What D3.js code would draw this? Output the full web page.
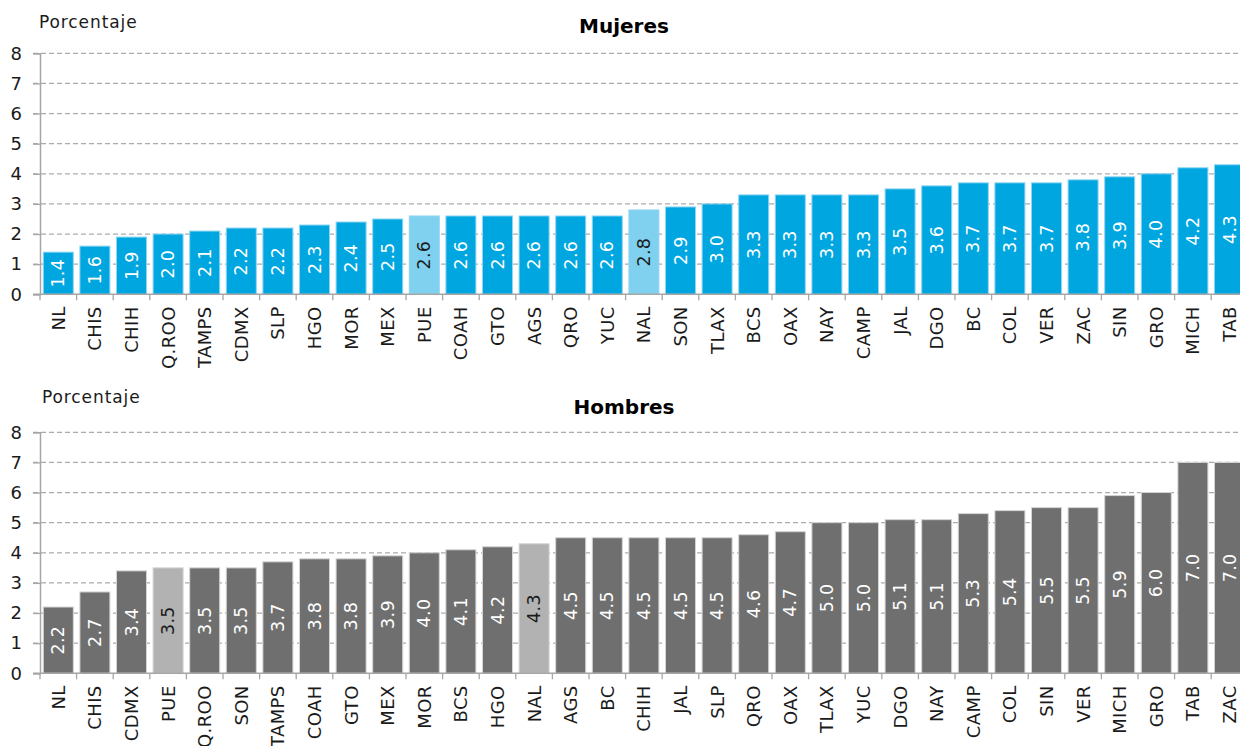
<!DOCTYPE html>
<html>
<head>
<meta charset="utf-8">
<script src="https://cdn.jsdelivr.net/npm/d3@7"></script>
<style>
  html, body { margin: 0; padding: 0; background: #fff; }
  svg { display: block; font-family: "DejaVu Sans", sans-serif; }
</style>
</head>
<body>
<svg id="chart" width="1240" height="746"></svg>
<script>
// Mujeres panel
const catsMujeres = ["NL","CHIS","CHIH","Q.ROO","TAMPS","CDMX","SLP","HGO","MOR","MEX","PUE","COAH","GTO","AGS","QRO","YUC","NAL","SON","TLAX","BCS","OAX","NAY","CAMP","JAL","DGO","BC","COL","VER","ZAC","SIN","GRO","MICH","TAB"];
const valsMujeres = [1.4,1.6,1.9,2.0,2.1,2.2,2.2,2.3,2.4,2.5,2.6,2.6,2.6,2.6,2.6,2.6,2.8,2.9,3.0,3.3,3.3,3.3,3.3,3.5,3.6,3.7,3.7,3.7,3.8,3.9,4.0,4.2,4.3];

// Hombres panel
const catsHombres = ["NL","CHIS","CDMX","PUE","Q.ROO","SON","TAMPS","COAH","GTO","MEX","MOR","BCS","HGO","NAL","AGS","BC","CHIH","JAL","SLP","QRO","OAX","TLAX","YUC","DGO","NAY","CAMP","COL","SIN","VER","MICH","GRO","TAB","ZAC"];
const valsHombres = [2.2,2.7,3.4,3.5,3.5,3.5,3.7,3.8,3.8,3.9,4.0,4.1,4.2,4.3,4.5,4.5,4.5,4.5,4.5,4.6,4.7,5.0,5.0,5.1,5.1,5.3,5.4,5.5,5.5,5.9,6.0,7.0,7.0];

const yTicks = [0,1,2,3,4,5,6,7,8];
const highlighted = ["PUE","NAL"];

const svg = d3.select("#chart");
const plotLeft = 40, bandW = 36.6;

function panel(opts) {
  const { cats, vals, title, top, bottom, color, hiColor, stroke, titleY, unitX, unitY } = opts;
  const g = svg.append("g");
  const x = d3.scaleBand().domain(cats).range([plotLeft, plotLeft + bandW * cats.length]).paddingInner(0.18).paddingOuter(0.09);
  const y = d3.scaleLinear().domain([0, 8]).range([bottom, top]);

  // dashed gridlines (extend left past the axis as tick marks)
  g.selectAll("line.grid").data(yTicks.filter(t => t > 0)).join("line")
    .attr("x1", plotLeft - 7).attr("x2", plotLeft + bandW * cats.length)
    .attr("y1", d => y(d)).attr("y2", d => y(d))
    .attr("stroke", "#ababab").attr("stroke-width", 1.3).attr("stroke-dasharray", "5,3");

  // bars
  g.selectAll("rect.bar").data(cats).join("rect")
    .attr("x", d => x(d)).attr("width", x.bandwidth())
    .attr("y", (d, i) => y(vals[i])).attr("height", (d, i) => y(0) - y(vals[i]))
    .attr("fill", d => highlighted.includes(d) ? hiColor : color)
    .attr("stroke", stroke).attr("stroke-width", 1);

  // value labels, rotated inside the bars
  g.selectAll("text.val").data(cats).join("text")
    .attr("transform", (d, i) => `translate(${x(d) + x.bandwidth() / 2},${(y(vals[i]) + y(0)) / 2}) rotate(-90)`)
    .attr("text-anchor", "middle").attr("dominant-baseline", "central")
    .attr("font-size", 17.5).attr("letter-spacing", 0.3)
    .attr("fill", d => highlighted.includes(d) ? "#1a1a1a" : "#ffffff")
    .text((d, i) => d3.format(".1f")(vals[i]));

  // y axis
  const yAxis = d3.axisLeft(y).tickValues(yTicks).tickSize(7).tickFormat(d3.format("d"));
  const ya = g.append("g").attr("transform", `translate(${plotLeft},0)`).call(yAxis);
  ya.select(".domain").attr("stroke", "#a6a6a6").attr("stroke-width", 1.5);
  ya.selectAll(".tick line").attr("stroke", "#a6a6a6").attr("stroke-width", 1.3);
  ya.selectAll(".tick text").attr("font-size", 18).attr("fill", "#1a1a1a").attr("x", -18)
    .attr("font-family", "DejaVu Sans, sans-serif");

  // x axis baseline with separators between categories
  const xa = g.append("g").attr("transform", `translate(0,${bottom})`);
  xa.append("line").attr("x1", plotLeft - 7).attr("x2", plotLeft + bandW * cats.length)
    .attr("stroke", "#a6a6a6").attr("stroke-width", 1.5);
  const bounds = d3.range(cats.length + 1).map(i => plotLeft + i * bandW);
  xa.selectAll("line.sep").data(bounds).join("line")
    .attr("x1", d => d).attr("x2", d => d).attr("y1", 0).attr("y2", 6)
    .attr("stroke", "#a6a6a6").attr("stroke-width", 1.3);
  xa.selectAll("text.cat").data(cats).join("text")
    .attr("transform", d => `translate(${x(d) + x.bandwidth() / 2},12) rotate(-90)`)
    .attr("text-anchor", "end").attr("dominant-baseline", "central")
    .attr("font-size", 18).attr("letter-spacing", 0.4).attr("fill", "#1a1a1a")
    .text(d => d);

  // title and unit
  g.append("text").attr("x", 624).attr("y", titleY).attr("text-anchor", "middle")
    .attr("font-size", 20).attr("font-weight", "bold").attr("fill", "#000").text(title);
  g.append("text").attr("x", unitX).attr("y", unitY)
    .attr("font-size", 17).attr("letter-spacing", 0.9).attr("fill", "#1a1a1a").text("Porcentaje");
}

panel({ cats: catsMujeres, vals: valsMujeres, title: "Mujeres", top: 53.3, bottom: 294.3,
  color: "#00a6e0", hiColor: "#7fd1ef", stroke: "#8fd6f2", titleY: 33, unitX: 39, unitY: 28 });
panel({ cats: catsHombres, vals: valsHombres, title: "Hombres", top: 432.3, bottom: 673.3,
  color: "#6f6f6f", hiColor: "#b2b2b2", stroke: "#d4d4d4", titleY: 414, unitX: 42, unitY: 403 });
</script>
</body>
</html>
